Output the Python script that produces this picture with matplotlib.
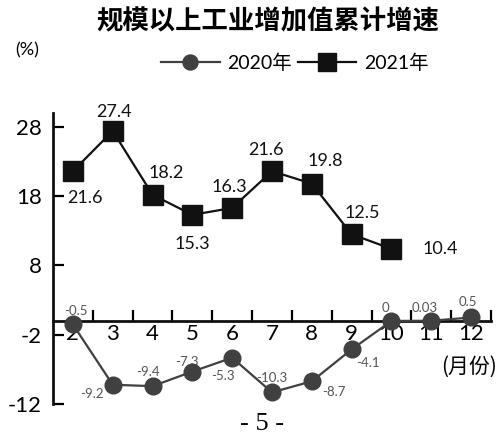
import matplotlib
matplotlib.use("Agg")
import matplotlib.pyplot as plt
import numpy as np

# ── Data ──────────────────────────────────────────────────────────────────────
months_2020 = [2, 3, 4, 5, 6, 7, 8, 9, 10, 11, 12]
vals_2020   = [-0.5, -9.2, -9.4, -7.3, -5.3, -10.3, -8.7, -4.1, 0, 0.03, 0.5]
labels_2020 = ["-0.5", "-9.2", "-9.4", "-7.3", "-5.3", "-10.3", "-8.7", "-4.1", "0", "0.03", "0.5"]

months_2021 = [2, 3, 4, 5, 6, 7, 8, 9, 10]
vals_2021   = [21.6, 27.4, 18.2, 15.3, 16.3, 21.6, 19.8, 12.5, 10.4]

y_ticks = [28, 18, 8, -2, -12]

# label offsets (points)
off_2021 = [(9, -19), (1, 14), (10, 16), (0, -21), (-2, 15), (-4, 15), (10, 16), (8, 15), (35, 0)]
off_2020 = [(2, 10), (-15, -7), (-3, 10), (-4, 7), (-7, -13), (0, 10), (16, -8), (12, -10), (-4, 9), (-5, 9), (-2, 11)]

LAT = ["Lato", "Noto Sans CJK SC"]
CJK = ["Noto Sans CJK SC", "DejaVu Sans"]

fig = plt.figure(figsize=(5.0, 4.36), dpi=100)
ax = fig.add_axes([0.106, 0.073, 0.876, 0.668])

l20, = ax.plot(months_2020, vals_2020, color="#404040", lw=1.6, marker="o",
               markersize=12, zorder=3, label="2020年")
l21, = ax.plot(months_2021, vals_2021, color="#111111", lw=1.6, marker="s",
               markersize=14, zorder=3, label="2021年")

for m, v, (dx, dy) in zip(months_2021, vals_2021, off_2021):
    ax.annotate(f"{v:.1f}", (m, v), xytext=(dx, dy), textcoords="offset points",
                ha="center", va="center", fontsize=13, family=LAT, color="#111111")
for m, t, v, (dx, dy) in zip(months_2020, labels_2020, vals_2020, off_2020):
    ax.annotate(t, (m, v), xytext=(dx, dy), textcoords="offset points",
                ha="center", va="center", fontsize=9.5, family=LAT, color="#555555",
                zorder=2)

ax.set_xlim(1.5, 12.5)
ax.set_ylim(-12, 30)
ax.spines["top"].set_visible(False)
ax.spines["right"].set_visible(False)
ax.spines["bottom"].set_position(("data", 0))
ax.spines["left"].set_bounds(-12, 30)
for s in ["left", "bottom"]:
    ax.spines[s].set_linewidth(2)
    ax.spines[s].set_color("#111111")

ax.set_yticks(y_ticks)
ax.set_yticklabels([str(t) for t in y_ticks], fontsize=16, family=LAT)
ax.tick_params(axis="y", direction="in", length=8, width=1.6, pad=8)

ax.set_xticks(np.arange(2.5, 13, 1.0))
ax.set_xticklabels([])
ax.tick_params(axis="x", which="major", direction="in", length=8, width=1.6)
ax.set_xticks(months_2020, minor=True)
ax.set_xticklabels([str(m) for m in months_2020], minor=True, fontsize=16, family=LAT)
ax.tick_params(axis="x", which="minor", length=0, pad=2)

fig.text(0.536, 0.95, "规模以上工业增加值累计增速", ha="center", va="center",
         fontsize=19, fontweight="bold", family=CJK)
fig.text(0.03, 0.885, "(%)", ha="left", va="center", fontsize=13, family=LAT)
fig.text(0.994, 0.158, "(月份)", ha="right", va="center", fontsize=15, family=CJK)
fig.text(0.524, 0.028, "- 5 -", ha="center", va="center", fontsize=19,
         family="Liberation Serif")

fig.legend(handles=[l20, l21], loc="center", bbox_to_anchor=(0.59, 0.856),
           ncol=2, frameon=False, handlelength=3.0, handletextpad=0.4,
           columnspacing=0.3, prop={"family": LAT, "size": 14}, markerscale=0.9)

fig.savefig("out.png", dpi=100)
